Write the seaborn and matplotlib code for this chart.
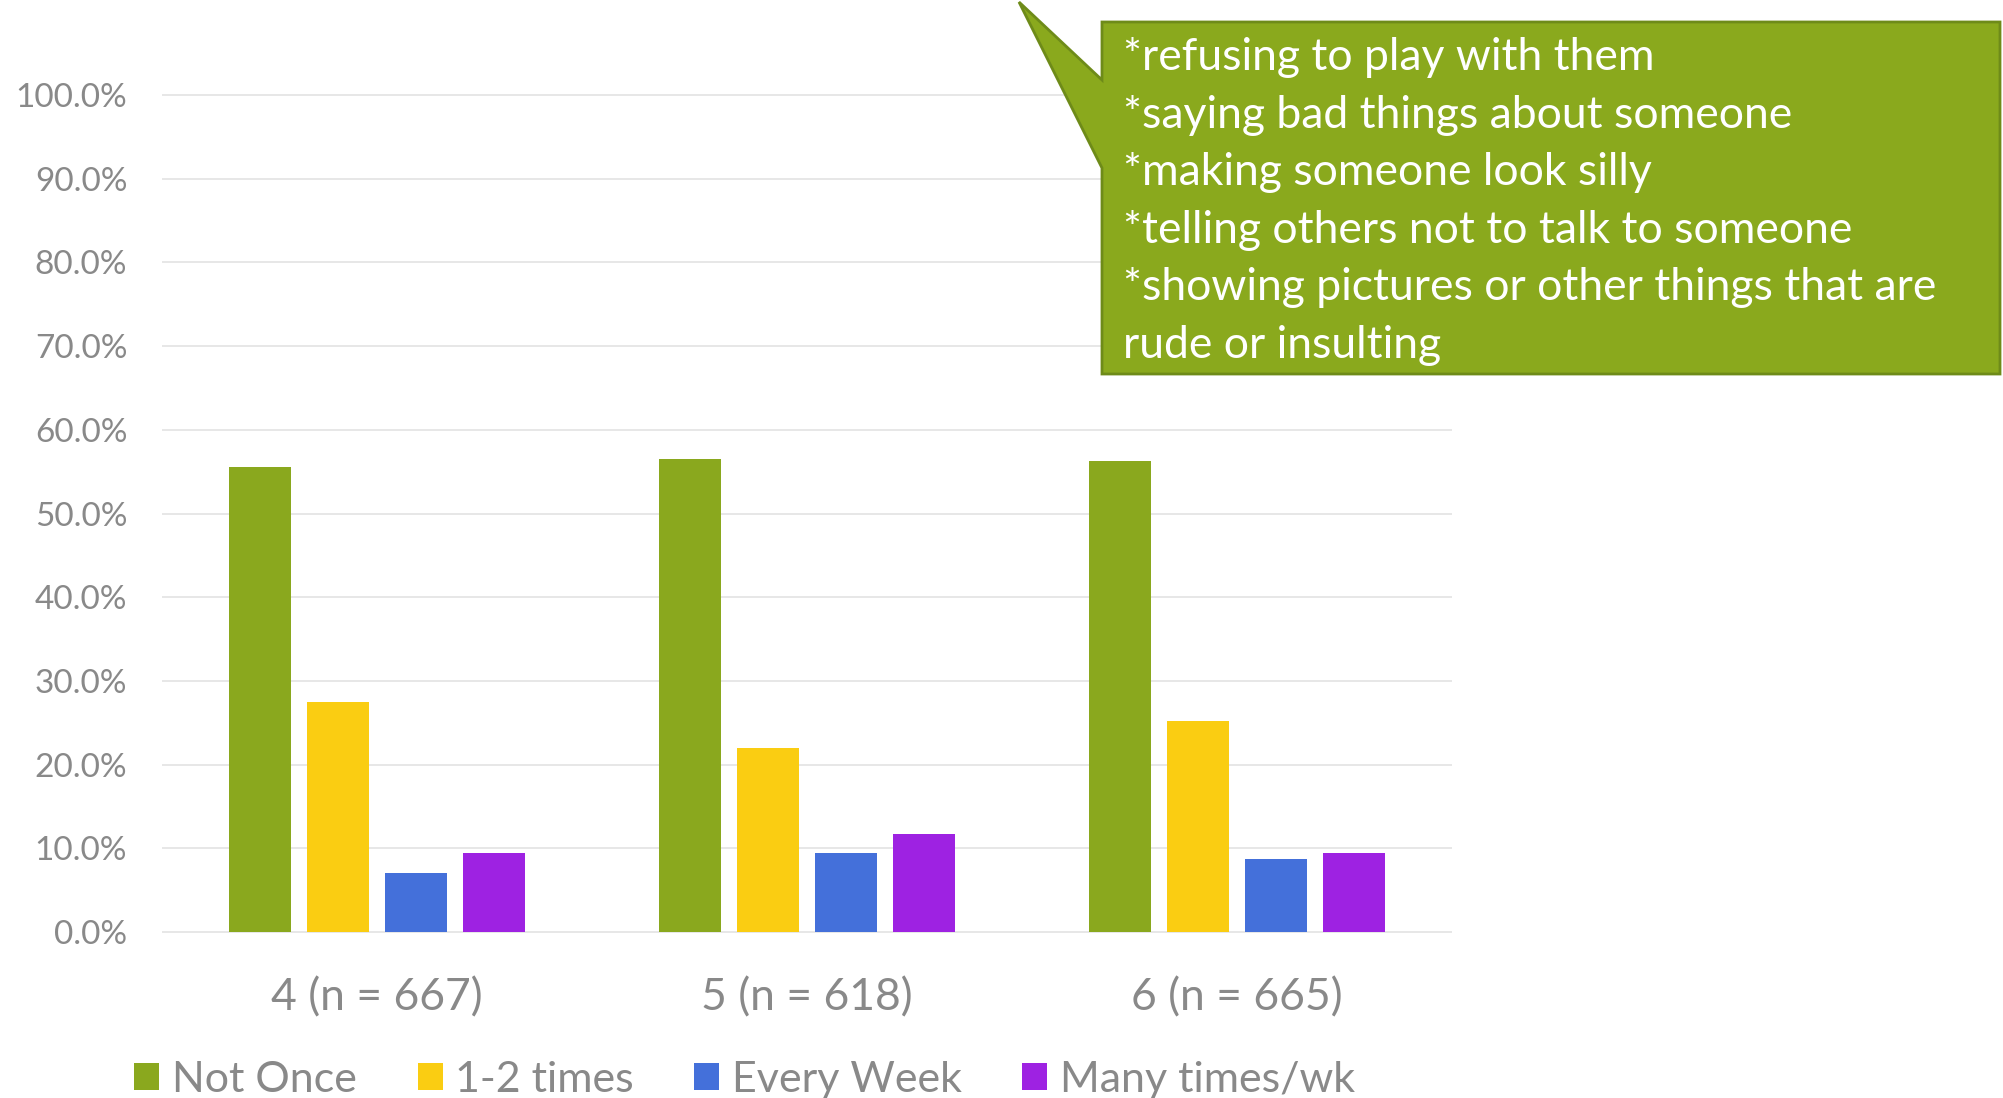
import pandas as pd
import seaborn as sns
import matplotlib.pyplot as plt
from matplotlib.patches import Polygon
from matplotlib.ticker import PercentFormatter

# values (fractions)
grades = ['4 (n = 667)', '5 (n = 618)', '6 (n = 665)']
responses = ['Not Once', '1-2 times', 'Every Week', 'Many times/wk']
not_once = [0.555, 0.565, 0.563]
one_two = [0.275, 0.220, 0.252]
every_week = [0.071, 0.095, 0.087]
many_times = [0.095, 0.117, 0.095]
colors = ['#8aa81e', '#facd12', '#4470da', '#9e22e2']
callout_lines = [
    '*refusing to play with them',
    '*saying bad things about someone',
    '*making someone look silly',
    '*telling others not to talk to someone',
    '*showing pictures or other things that are',
    'rude or insulting',
]

rows = []
for resp, vals in zip(responses, [not_once, one_two, every_week, many_times]):
    for g, v in zip(grades, vals):
        rows.append({'grade': g, 'response': resp, 'value': v})
df = pd.DataFrame(rows)

sns.set_style('white')
plt.rcParams['font.family'] = ['Lato', 'DejaVu Sans']
text_grey = '#898989'

W, H = 2003, 1098
fig = plt.figure(figsize=(W / 100, H / 100), dpi=100)
ax = fig.add_axes([162 / W, 1 - 933.7 / H, 1290 / W, 840.4 / H])

sns.barplot(data=df, x='grade', y='value', hue='response', hue_order=responses,
            palette=colors, saturation=1, width=0.726, gap=0.205,
            linewidth=0, ax=ax, legend=True)

ax.set_ylim(-0.002, 1.002)
ax.set_xlim(-0.5, 2.5)
ax.set_yticks([i / 10 for i in range(11)])
ax.yaxis.set_major_formatter(PercentFormatter(1.0, decimals=1))
ax.grid(axis='y', color='#e0e0e0', linewidth=1.1)
ax.set_axisbelow(True)
for s in ax.spines.values():
    s.set_visible(False)
ax.set_xlabel('')
ax.set_ylabel('')
ax.tick_params(axis='y', length=0, pad=25, labelsize=24, labelcolor=text_grey)
ax.tick_params(axis='x', length=0, pad=31, labelsize=32, labelcolor=text_grey)

handles, labels = ax.get_legend_handles_labels()
ax.get_legend().remove()
fig.legend(handles, labels, loc='center', bbox_to_anchor=(745 / W, 1 - 1080 / H),
           ncol=4, frameon=False, fontsize=31, labelcolor=text_grey,
           handlelength=0.58, handleheight=0.58, handletextpad=0.3,
           columnspacing=1.4)

# speech-bubble callout
def fp(x, y):
    return (x / W, 1 - y / H)

bubble = [fp(1102, 22), fp(2000, 22), fp(2000, 374), fp(1102, 374),
          fp(1102, 168), fp(1019, 2), fp(1102, 80)]
fig.patches.append(Polygon(bubble, closed=True, transform=fig.transFigure,
                           facecolor='#8aa91d', edgecolor='#6e8b19',
                           linewidth=2, zorder=5))
for i, line in enumerate(callout_lines):
    fig.text(1123 / W, 1 - (70 + 57.6 * i) / H, line, color='white',
             fontsize=32, ha='left', va='baseline', zorder=6)

fig.savefig('out.png', dpi=100)
